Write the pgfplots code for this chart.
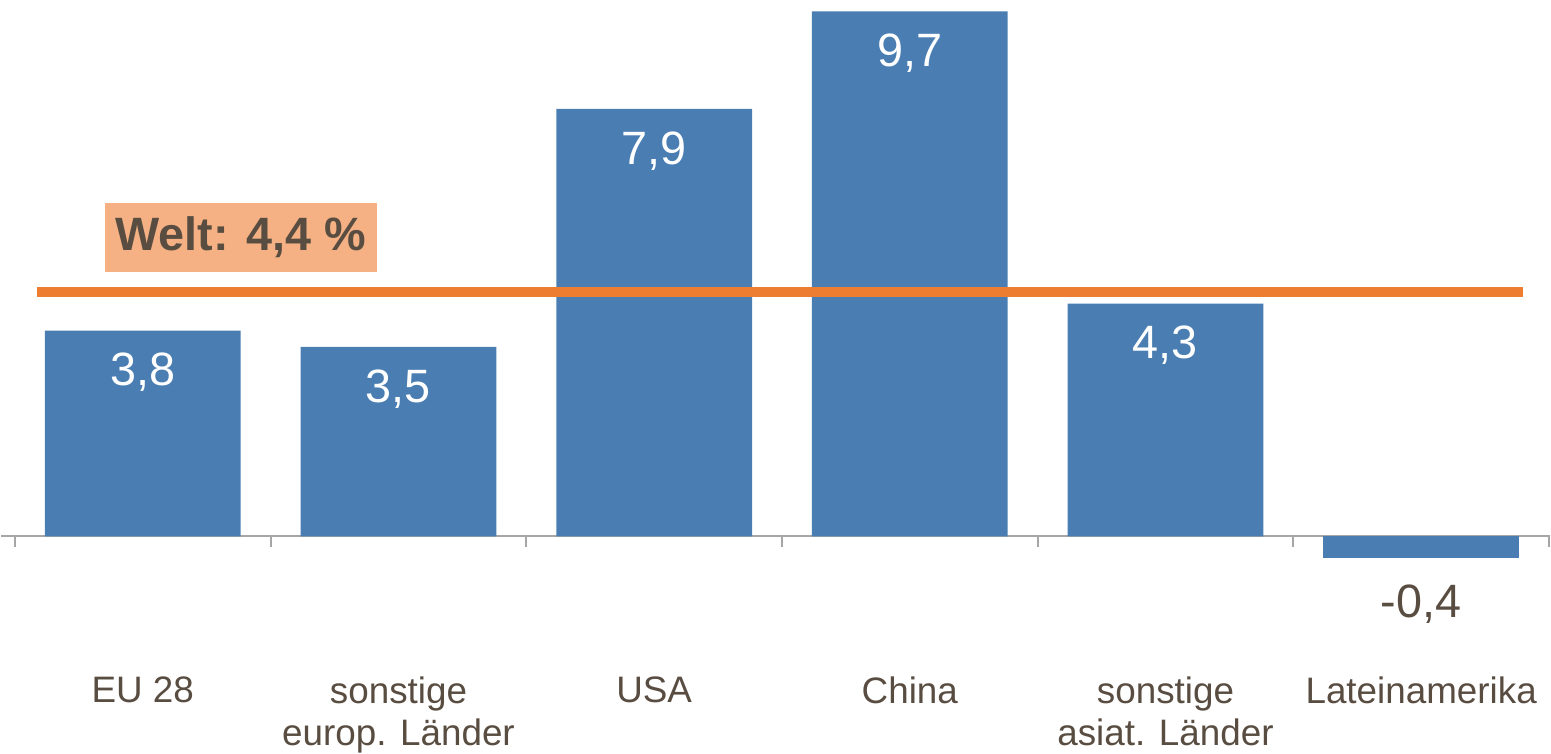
\documentclass[border=0pt]{standalone}
\usepackage{pgfplots}
\pgfplotsset{compat=1.18}
\usepackage{fontspec}
\setmainfont{Liberation Sans}
\definecolor{barblue}{HTML}{4A7EB3}
\definecolor{weltline}{HTML}{ED7D31}
\definecolor{weltbox}{HTML}{F5B183}
\definecolor{txt}{HTML}{594D42}
\definecolor{axisgray}{HTML}{A6A6A6}

\begin{document}
\begin{tikzpicture}
\begin{axis}[
  scale only axis, width=1551bp, height=753bp,
  xmin=-0.5547, xmax=5.504, ymin=-3.985, ymax=9.908,
  axis line style={draw=none},
  ytick=\empty,
  xtick={0,...,5},
  xticklabels={EU 28,{sonstige\\europ. Länder},USA,China,{sonstige\\asiat. Länder},Lateinamerika},
  major tick length=0pt,
  xticklabel style={align=center, text=txt, inner sep=0pt, font=\fontsize{37}{43}\selectfont, yshift=76bp},
  clip=false,
  /pgf/number format/.cd, use comma, fixed, fixed zerofill, precision=1, assume math mode=true,
]
% zero line and category ticks
\draw[axisgray, line width=2bp] (axis cs:-0.5547,0) -- (axis cs:5.504,0);
\pgfplotsinvokeforeach{-0.5,0.5,1.5,2.5,3.5,4.5,5.5}{
  \draw[axisgray, line width=2bp] (axis cs:#1,0) -- (axis cs:#1,-0.203);
}

\addplot[ybar, bar width=196bp, bar shift=0pt, fill=barblue, draw=none,
  nodes near coords,
  nodes near coords style={text=white, anchor=center, yshift=-42bp, font=\fontsize{47}{52}\selectfont}]
  coordinates {(0,3.8) (1,3.5) (2,7.9) (3,9.7) (4,4.3)};
\addplot[ybar, bar width=196bp, bar shift=0pt, fill=barblue, draw=none,
  nodes near coords,
  nodes near coords style={text=txt, anchor=center, yshift=-46bp, font=\fontsize{47}{52}\selectfont}]
  coordinates {(5,-0.4)};

% world average line
\addplot[sharp plot, no marks, weltline, line width=10bp] coordinates {(-0.414,4.52) (5.398,4.52)};

\node[fill=weltbox, minimum width=272bp, minimum height=69bp, inner sep=0pt,
  text=txt, font=\bfseries\fontsize{47}{50}\selectfont]
  at (axis cs:0.383,5.526) {Welt: 4,4 \%};
\end{axis}
\end{tikzpicture}
\end{document}
